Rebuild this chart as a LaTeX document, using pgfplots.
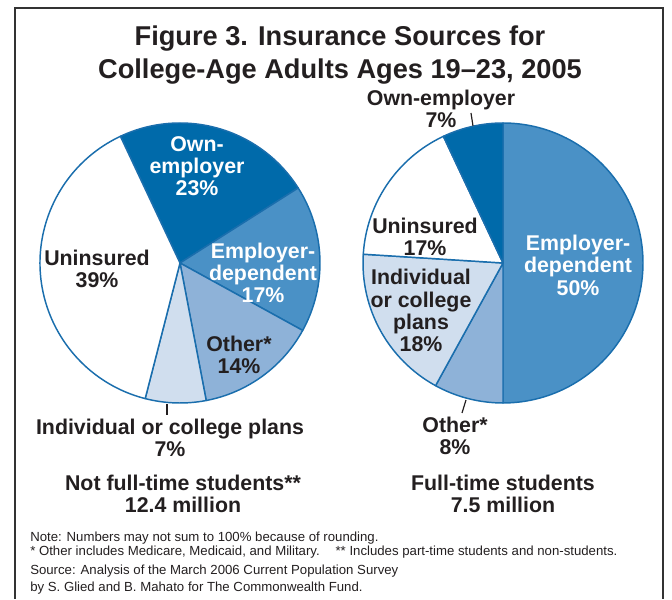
\documentclass[border=0pt]{standalone}
\usepackage{pgfplots}
\pgfplotsset{compat=1.18}
\usepackage{pgfplotstable}
\usepackage{fontspec}
\setmainfont{Liberation Sans}

\definecolor{cOwn}{HTML}{006AAA}
\definecolor{cEmp}{HTML}{4A91C6}
\definecolor{cOth}{HTML}{8EB2D8}
\definecolor{cInd}{HTML}{D0DEEE}
\definecolor{cUni}{HTML}{FFFFFF}
\definecolor{edge}{HTML}{1A6EAD}
\definecolor{ink}{HTML}{231F20}

% shares in percent, clockwise from the start angle
\pgfplotstableread{
source value fill
Own-employer 23 cOwn
Employer-dependent 17 cEmp
Other 14 cOth
Individual 7 cInd
Uninsured 39 cUni
}\leftpie
\pgfplotstableread{
source value fill
Employer-dependent 50 cEmp
Other 8 cOth
Individual 18 cInd
Uninsured 17 cUni
Own-employer 7 cOwn
}\rightpie

% #1 table, #2 #3 centre (axis cs), #4 start angle
\newcommand\drawpie[4]{%
  \pgfmathsetmacro\pieang{#4}%
  \pgfplotstablegetrowsof{#1}%
  \pgfmathtruncatemacro\pielast{\pgfplotsretval-1}%
  \pgfplotsforeachungrouped \k in {0,...,\pielast}{%
    \pgfplotstablegetelem{\k}{value}\of{#1}\let\pieval\pgfplotsretval
    \pgfplotstablegetelem{\k}{fill}\of{#1}\let\piecol\pgfplotsretval
    \pgfmathsetmacro\pieend{\pieang-3.6*\pieval}%
    \edef\piecmd{\noexpand\filldraw[fill=\piecol,draw=edge,line width=1.1pt,line join=round]
      (axis cs:#2,#3) -- ++(\pieang:105pt) arc[start angle=\pieang,end angle=\pieend,radius=105pt] -- cycle;}%
    \piecmd
    \let\pieang\pieend
  }%
}

\tikzset{
  lab/.style={font=\fontsize{16}{16.6}\selectfont\bfseries, align=center, text=ink, inner sep=0pt},
  note/.style={font=\fontsize{9.9}{11}\selectfont, text=ink, inner sep=0pt, anchor=base west},
}

\begin{document}
\begin{tikzpicture}
\begin{axis}[
    x=0.75pt, y=0.75pt,
    xmin=0, xmax=672, ymin=0, ymax=599,
    scale only axis, hide axis, clip=false,
  ]
  \path (axis cs:0,0) rectangle (axis cs:672,599);
  % frame
  \draw[line width=1.3pt, black!80] (axis cs:15,0) -- (axis cs:15,591) -- (axis cs:663,591) -- (axis cs:663,0);

  \drawpie{\leftpie}{180}{336}{115.2}
  \drawpie{\rightpie}{503}{336}{90}

  % title
  \node[font=\fontsize{20.4}{24.5}\selectfont\bfseries, align=center, text=ink, inner sep=0pt]
    at (axis cs:340,544) {Figure 3. Insurance Sources for\\College-Age Adults Ages 19--23, 2005};

  % left pie labels
  \node[lab, text=white] at (axis cs:197,432.5) {Own-\\employer\\23\%};
  \node[lab, text=white] at (axis cs:263,326.3) {Employer-\\dependent\\17\%};
  \node[lab] at (axis cs:239,244) {Other*\\14\%};
  \node[lab] at (axis cs:97,330.5) {Uninsured\\39\%};
  \node[lab] at (axis cs:170,161.5) {Individual or college plans\\7\%};
  \draw[ink, line width=0.9pt] (axis cs:167,195) -- (axis cs:167,184);

  % right pie labels
  \node[lab] at (axis cs:441,490.5) {Own-employer\\7\%};
  \draw[ink, line width=0.9pt] (axis cs:471,486) -- (axis cs:473,473);
  \node[lab, text=white] at (axis cs:578,333.7) {Employer-\\dependent\\50\%};
  \node[lab] at (axis cs:425,362) {Uninsured\\17\%};
  \node[lab] at (axis cs:421,288.5) {Individual\\or college\\plans\\18\%};
  \node[lab] at (axis cs:455,163) {Other*\\8\%};
  \draw[ink, line width=0.9pt] (axis cs:466,199) -- (axis cs:462,186);

  % group captions
  \node[lab] at (axis cs:183,105.5) {Not full-time students**\\12.4 million};
  \node[lab] at (axis cs:503,105.5) {Full-time students\\7.5 million};

  % notes
  \node[note] at (axis cs:30,57) {Note: Numbers may not sum to 100\% because of rounding.};
  \node[note] at (axis cs:30,43) {* Other includes Medicare, Medicaid, and Military.\hspace{1.2em}** Includes part-time students and non-students.};
  \node[note] at (axis cs:30,24) {Source: Analysis of the March 2006 Current Population Survey};
  \node[note] at (axis cs:30,7) {by S. Glied and B. Mahato for The Commonwealth Fund.};
\end{axis}
\end{tikzpicture}
\end{document}
